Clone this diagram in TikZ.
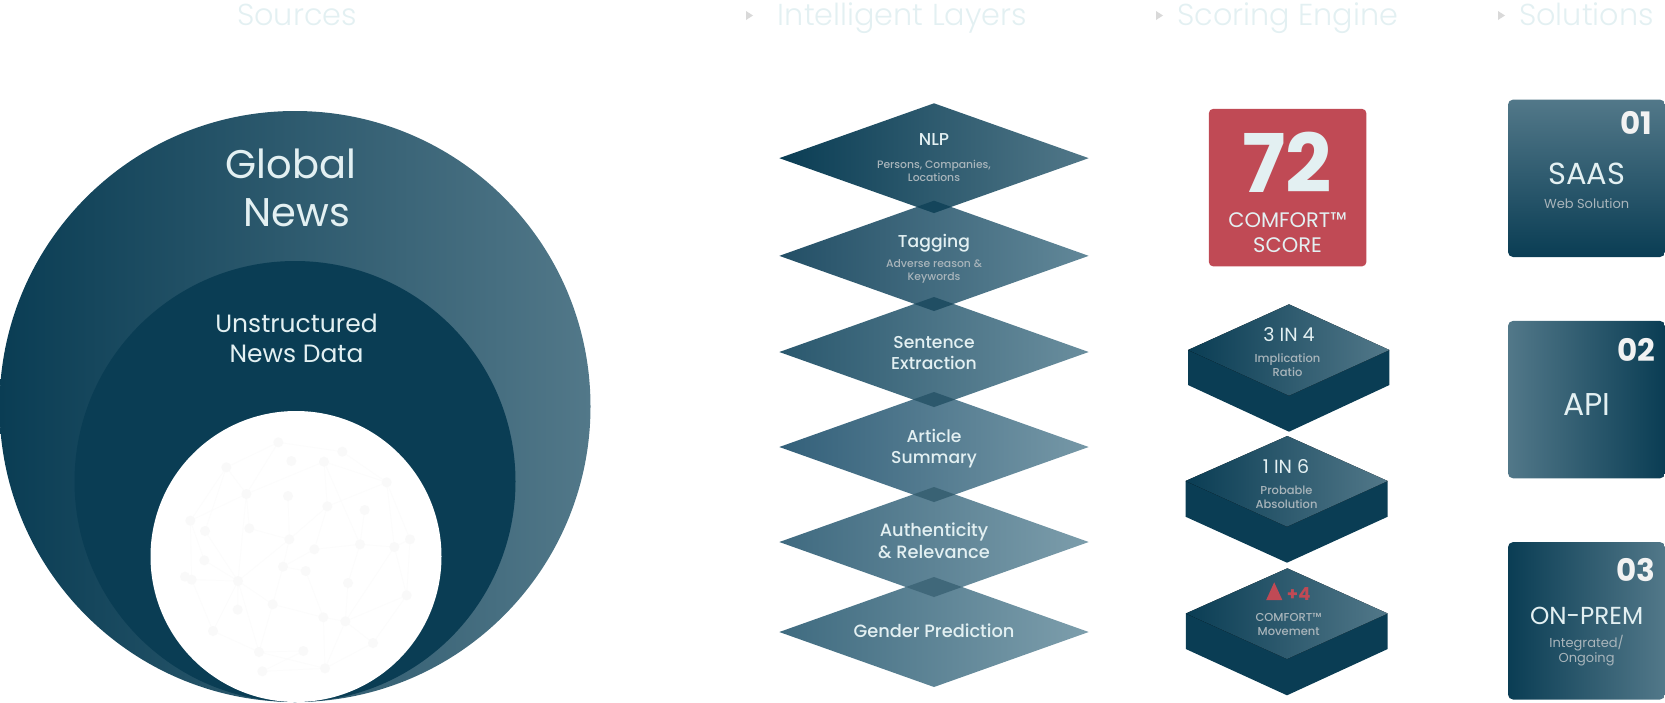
\documentclass[tikz,border=0pt]{standalone}
\usepackage{fontspec}
\usetikzlibrary{shapes.geometric}
\setmainfont{Poppins}
\newfontfamily\poplight{Poppins Light}
\newfontfamily\popmed{Poppins Medium}
\definecolor{ink}{HTML}{0A3D54}
\definecolor{pale}{HTML}{E3F0F2}
\definecolor{muted}{HTML}{A9B5BB}
\definecolor{redc}{HTML}{C04A55}
\definecolor{steel}{HTML}{527889}
\definecolor{ltwo}{HTML}{234F66}\definecolor{rtwo}{HTML}{628899}
\definecolor{lthree}{HTML}{2A586E}\definecolor{rthree}{HTML}{6A8E9E}
\definecolor{lfour}{HTML}{33607A}\definecolor{rfour}{HTML}{7698A7}
\definecolor{lfive}{HTML}{3F6A80}\definecolor{rfive}{HTML}{7C9DAB}
\definecolor{lsix}{HTML}{3F6B80}\definecolor{rsix}{HTML}{7D9EAC}
\tikzset{
  lbl/.style={anchor=base,inner sep=0pt,outer sep=0pt,align=center,text=pale},
  heading/.style={lbl,font=\poplight\fontsize{30.3}{36}\selectfont},
  marker/.style={fill=black!15,draw=none},
  layer/.style={diamond,draw=none,inner sep=0pt,outer sep=0pt,aspect=2.81,minimum width=309.4pt,minimum height=110pt},
  lap/.style={diamond,draw=none,inner sep=0pt,outer sep=0pt,aspect=2.81},
  lay/.style={lbl,font=\popmed\fontsize{17.2}{21.3}\selectfont},
  laywide/.style={lbl,font=\popmed\fontsize{17.8}{21.8}\selectfont},
  sub/.style={lbl,text=muted,font=\popmed\fontsize{10.8}{13}\selectfont},
  blocksub/.style={lbl,text=muted,font=\popmed\fontsize{11.5}{14}\selectfont},
  blockhead/.style={lbl,font=\fontsize{19}{22}\selectfont},
  card/.style={rectangle,rounded corners=5pt,draw=none,inner sep=0pt,outer sep=0pt,minimum width=157pt,minimum height=157.4pt},
  cardnum/.style={anchor=base east,inner sep=0pt,outer sep=0pt,text=black!5,font=\bfseries\fontsize{31}{36}\selectfont},
  cardsub/.style={lbl,text=muted,font=\fontsize{13}{15}\selectfont},
  side/.style={fill=ink,draw=none},
  netdot/.style={circle,fill=black!2.5,draw=none,inner sep=0pt,minimum size=10pt},
  netline/.style={draw=black!1.2,line width=0.7pt},
}
\begin{document}
\begin{tikzpicture}[x=1pt,y=-1pt]
\useasboundingbox (0,0) rectangle (1665,702);
% headings
\node[heading] (h1) at (297,25.4) {Sources};
\node[heading] (h2) at (902.5,25.4) {Intelligent Layers};
\node[heading] (h3) at (1287.6,25.4) {Scoring Engine};
\node[heading] (h4) at (1586.5,25.4) {Solutions};
\fill[marker] (746,11) -- (753,15.5) -- (746,20) -- cycle;
\fill[marker] (1156,11) -- (1163,15.5) -- (1156,20) -- cycle;
\fill[marker] (1498,11) -- (1505,15.5) -- (1498,20) -- cycle;
% circles
\node[circle,draw=none,inner sep=0pt,outer sep=0pt,minimum size=591pt,left color=ink,right color=steel] (outer) at (295,406.5) {};
\node[circle,draw=none,inner sep=0pt,outer sep=0pt,fill=ink,minimum size=441pt] (inner) at (295,481.5) {};
\node[circle,draw=none,inner sep=0pt,outer sep=0pt,fill=white,minimum size=291pt] (core) at (296,556.5) {};
% faint network
\foreach \n/\x/\y in {1/385/97,2/577/125,3/424/153,4/522/155,5/229/172,6/710/217,7/289/252,8/414/258,9/532/289,10/644/300,11/121/332,12/165/363,13/298/355,14/418/388,15/493/418,16/630/403,17/733/411,18/780/388,19/163/451,20/399/470,21/467/483,22/105/500,23/125/509,24/264/513,25/594/519,26/770/556,27/368/583,28/263/599,29/520/622,30/586/634,31/189/663,32/327/726,33/460/723,34/669/699,35/337/784,36/525/775}
  \coordinate (p\n) at ({150+\x/3},{410+\y/3});
\foreach \a/\b in {1/5,1/2,1/7,5/7,2/6,4/6,4/7,5/11,5/12,7/11,7/13,7/24,13/14,8/14,9/4,9/6,9/14,9/15,10/16,4/16,6/17,6/18,16/17,17/18,17/26,18/26,16/15,14/20,15/20,20/21,21/29,16/25,25/30,26/30,17/30,20/27,24/27,24/14,24/12,24/23,24/19,24/31,24/32,11/19,11/23,23/31,31/32,27/32,27/29,29/30,29/36,30/36,32/36,32/33,35/36,35/33,30/34,26/34,34/36,28/24}
  \draw[netline] (p\a) -- (p\b);
\foreach \n in {1,...,36}
  \node[netdot] (d\n) at (p\n) {};
\node[lbl,font=\fontsize{40}{48}\selectfont] (gn) at (297,226) {Global\hspace*{12pt}\\News};
\node[lbl,font=\fontsize{25}{30.7}\selectfont] (un) at (296.5,362.7) {Unstructured\\News Data};
% layers
\node[layer,left color=lsix,right color=rsix] (l6) at (934,632) {};
\node[layer,left color=lfive,right color=rfive] (l5) at (934,542) {};
\node[layer,left color=lfour,right color=rfour] (l4) at (934,447) {};
\node[layer,left color=lthree,right color=rthree] (l3) at (934,352) {};
\node[layer,left color=ltwo,right color=rtwo] (l2) at (934,255.85) {};
\node[layer,left color=ink,right color=steel,minimum height=109.7pt] (l1) at (934,158.15) {};
\node[lap,fill=ink!96!white,minimum width=34.6pt,minimum height=12.3pt] (o1) at (934,206.85) {};
\node[lap,fill=ink!91!white,minimum width=39.4pt,minimum height=14pt] (o2) at (934,304) {};
\node[lap,fill=ink!86!white,minimum width=42pt,minimum height=15pt] (o3) at (934,399.5) {};
\node[lap,fill=ink!81!white,minimum width=42pt,minimum height=15pt] (o4) at (934,494.5) {};
\node[lap,fill=ink!78!white,minimum width=56pt,minimum height=20pt] (o5) at (934,587) {};
\node[lay] (t1) at (934,145) {NLP};
\node[sub] (s1) at (934,181) {Persons, Companies,\\Locations};
\node[lay] (t2) at (934,247.3) {Tagging};
\node[sub] (s2) at (934,280) {Adverse reason \&\\Keywords};
\node[lay] (t3) at (934,369.3) {Sentence\\Extraction};
\node[lay] (t4) at (934,463.5) {Article\\Summary};
\node[laywide] (t5) at (934,558.2) {Authenticity\\\& Relevance};
\node[laywide] (t6) at (934,637.5) {Gender Prediction};
% score
\node[rectangle,rounded corners=4pt,fill=redc,draw=none,inner sep=0pt,outer sep=0pt,minimum width=157.3pt,minimum height=157.3pt] (score) at (1287.6,187.6) {};
\node[lbl,font=\bfseries\fontsize{81}{81}\selectfont] (sv) at (1287.3,192.5) {72};
\node[lbl,font=\fontsize{21}{25}\selectfont] (sl) at (1287.5,252.2) {COMFORT™\\SCORE};
% blocks
\fill[side] (1188,350) -- (1389.4,350) -- (1389.4,385) -- (1289,431.7) -- (1188,385) -- cycle;
\fill[left color=ink,right color=steel] (1289,304.3) -- (1389.4,350) -- (1289,395.7) -- (1188,350) -- cycle;
\fill[side] (1185.5,481) -- (1387.7,481) -- (1387.7,516.7) -- (1287,562.7) -- (1185.5,516.7) -- cycle;
\fill[left color=ink,right color=steel] (1287.3,436) -- (1387.7,481) -- (1287,526.7) -- (1185.5,481) -- cycle;
\fill[side] (1185.8,613.5) -- (1387.7,613.5) -- (1387.7,649) -- (1287,695.3) -- (1185.8,649) -- cycle;
\fill[left color=ink,right color=steel] (1287.3,568.3) -- (1387.7,613.5) -- (1287,659) -- (1185.8,613.5) -- cycle;
\node[blockhead] (b1) at (1289,341.5) {3 IN 4};
\node[blocksub] (b1s) at (1287.5,376) {Implication\\Ratio};
\node[blockhead] (b2) at (1286,473.5) {1 IN 6};
\node[blocksub] (b2s) at (1286.5,508.3) {Probable\\Absolution};
\fill[redc] (1274.2,582.3) -- (1282.3,600) -- (1266.2,600) -- cycle;
\node[lbl,text=redc,font=\bfseries\fontsize{18}{20}\selectfont] (b3) at (1298.7,600) {+4};
\node[blocksub] (b3s) at (1288.6,635) {COMFORT™\\Movement};
% cards
\node[card,top color=steel,bottom color=ink] (c1) at (1586.5,178.3) {};
\node[card,left color=steel,right color=ink] (c2) at (1586.5,399.6) {};
\node[card,left color=ink,right color=steel] (c3) at (1586.5,620.8) {};
\node[cardnum] (n1) at (1652,134) {01};
\node[cardnum] (n2) at (1655,361.5) {02};
\node[cardnum] (n3) at (1655,581.7) {03};
\node[lbl,font=\fontsize{30.5}{34}\selectfont] (a1) at (1586.6,184) {SAAS};
\node[cardsub] (a1s) at (1586.6,208) {Web Solution};
\node[lbl,font=\fontsize{31.5}{34}\selectfont] (a2) at (1586.6,415) {API};
\node[lbl,font=\fontsize{24.6}{28}\selectfont] (a3) at (1586.6,624) {ON-PREM};
\node[cardsub] (a3s) at (1586.6,662.7) {Integrated/\\Ongoing};
\end{tikzpicture}
\end{document}
